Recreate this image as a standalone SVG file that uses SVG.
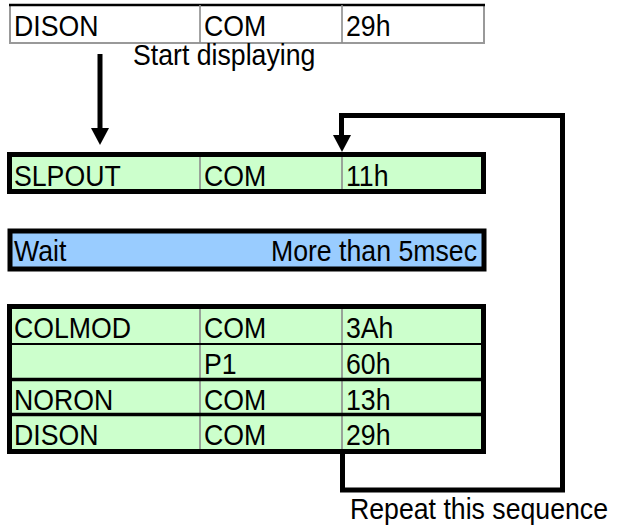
<svg xmlns="http://www.w3.org/2000/svg" width="622" height="531" viewBox="0 0 622 531">
<style>
text{font-family:"Liberation Sans",Arial,sans-serif;font-size:29px;fill:#000;transform-box:fill-box;transform-origin:0 0;transform:scaleX(0.92)}
text.end{transform-origin:100% 0}
.g{fill:#CCFFCC}
.b{fill:#99CCFF}
.box{fill:none;stroke:#000;stroke-width:5}
.div{stroke:#8c8c8c;stroke-width:1.6}
.sep{stroke:#000;stroke-width:3.5}
.thin{stroke:#000;stroke-width:2}
.con{fill:none;stroke:#000;stroke-width:5}
</style>
<defs>
<polygon id="ah" points="-9,-17 9,-17 0,0" fill="#000"/>
</defs>
<g id="dison-top">
<rect x="10" y="5" width="474" height="38" fill="#fff" stroke="#999" stroke-width="2"/>
<line x1="9" y1="5" x2="485" y2="5" stroke="#000" stroke-width="2.5"/>
<line class="div" x1="200" y1="5" x2="200" y2="43"/>
<line class="div" x1="342" y1="5" x2="342" y2="43"/>
<text x="14" y="36">DISON</text>
<text x="204" y="36">COM</text>
<text x="346" y="36">29h</text>
</g>
<g id="start-label"><text x="133" y="65">Start displaying</text></g>
<g id="slpout">
<rect class="g" x="9.5" y="154.5" width="474" height="37"/>
<line class="div" x1="200" y1="157" x2="200" y2="189"/>
<line class="div" x1="342" y1="157" x2="342" y2="189"/>
<rect class="box" x="9.5" y="154.5" width="474" height="37"/>
<text x="14" y="186">SLPOUT</text>
<text x="204" y="186">COM</text>
<text x="346" y="186">11h</text>
</g>
<g id="wait">
<rect class="b" x="10" y="231" width="474" height="38"/>
<rect class="box" x="10" y="231" width="474" height="38"/>
<text x="14" y="261">Wait</text>
<text class="end" x="477" y="261" text-anchor="end">More than 5msec</text>
</g>
<g id="init-block">
<rect class="g" x="9.5" y="306.5" width="474" height="145"/>
<line class="div" x1="200" y1="309" x2="200" y2="449"/>
<line class="div" x1="342" y1="309" x2="342" y2="449"/>
<line class="thin" x1="9.5" y1="344" x2="483.5" y2="344"/>
<line class="sep" x1="9.5" y1="379.5" x2="483.5" y2="379.5"/>
<line class="sep" x1="9.5" y1="414.5" x2="483.5" y2="414.5"/>
<rect class="box" x="9.5" y="306.5" width="474" height="145"/>
<g id="colmod">
<text x="14" y="338">COLMOD</text>
<text x="204" y="338">COM</text>
<text x="346" y="338">3Ah</text>
</g>
<g id="p1">
<text x="204" y="374">P1</text>
<text x="346" y="374">60h</text>
</g>
<g id="noron">
<text x="14" y="410">NORON</text>
<text x="204" y="410">COM</text>
<text x="346" y="410">13h</text>
</g>
<g id="dison">
<text x="14" y="445">DISON</text>
<text x="204" y="445">COM</text>
<text x="346" y="445">29h</text>
</g>
</g>
<g id="repeat-label"><text x="350" y="519">Repeat this sequence</text></g>
<g id="connectors">
<line class="con" x1="100" y1="54" x2="100" y2="131"/>
<use href="#ah" x="100" y="145"/>
<path class="con" d="M342.5,451 V490 H562.5 V115.5 H341.5 V138"/>
<use href="#ah" x="342" y="152"/>
</g>
</svg>
